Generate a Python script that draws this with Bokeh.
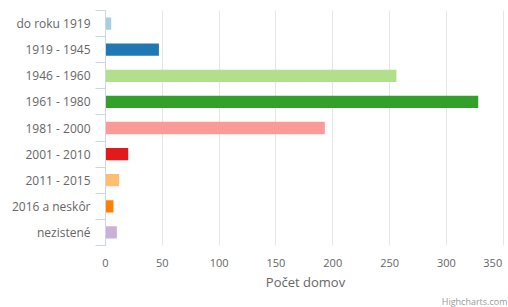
from bokeh.plotting import figure
from bokeh.models import Range1d, FixedTicker, LinearAxis, Grid, Title
from bokeh.embed import file_html
from bokeh.resources import INLINE

categories = ["do roku 1919", "1919 - 1945", "1946 - 1960", "1961 - 1980", "1981 - 2000",
              "2001 - 2010", "2011 - 2015", "2016 a neskôr", "nezistené"]
values = [5, 47, 256, 328, 193, 20, 12, 7, 10]
colors = ["#a6cee3", "#1f78b4", "#b2df8a", "#33a02c", "#fb9a99",
          "#e31a1c", "#fdbf6f", "#ff7f00", "#cab2d6"]
x_ticks = [0, 50, 100, 150, 200, 250, 300, 350]
x_title = "Počet domov"
credit = "Highcharts.com"

FONT = "Open Sans"
n = len(categories)
centers = [i + 0.5 for i in range(n)]
bounds = [float(i) for i in range(n + 1)]

p = figure(width=508, height=307, output_backend="svg", toolbar_location=None,
           x_range=Range1d(0, 352), y_range=Range1d(n, 0),
           x_axis_location=None, y_axis_location=None,
           min_border_left=105, min_border_right=3, min_border_top=10, min_border_bottom=59)
p.outline_line_color = None
p.background_fill_color = "white"
p.border_fill_color = "white"

p.hbar(y=centers, left=0, right=values, height=0.47, color=colors, line_color=None)

# value axis (bottom)
xa = LinearAxis(ticker=FixedTicker(ticks=x_ticks))
xa.axis_line_color = None
xa.major_tick_line_color = None
xa.major_tick_out = 0
xa.major_tick_in = 0
xa.minor_tick_line_color = None
xa.minor_tick_out = 0
xa.minor_tick_in = 0
xa.major_label_text_font = FONT
xa.major_label_text_font_size = "11px"
xa.major_label_text_color = "#666666"
xa.major_label_standoff = 9
xa.major_label_overrides = {x_ticks[-1]: str(x_ticks[-1]) + "\u2007"}
xa.axis_label = x_title
xa.axis_label_text_font = FONT
xa.axis_label_text_font_size = "13px"
xa.axis_label_text_font_style = "normal"
xa.axis_label_text_color = "#666666"
xa.axis_label_standoff = 0
p.add_layout(xa, "below")

# category axis (left)
ya = LinearAxis(ticker=FixedTicker(ticks=centers, minor_ticks=bounds))
ya.axis_line_color = "#ccd6eb"
ya.major_tick_line_color = None
ya.major_tick_out = 0
ya.major_tick_in = 0
ya.minor_tick_line_color = "#ccd6eb"
ya.minor_tick_out = 10
ya.minor_tick_in = 0
ya.major_label_text_font = FONT
ya.major_label_text_font_size = "12px"
ya.major_label_text_color = "#666666"
ya.major_label_standoff = 5
ya.major_label_overrides = {c: name for c, name in zip(centers, categories)}
p.add_layout(ya, "left")

p.xgrid.visible = False
p.ygrid.visible = False
p.add_layout(Grid(dimension=0, ticker=FixedTicker(ticks=x_ticks[1:]), grid_line_color="#e6e6e6"))

p.add_layout(Title(text=credit, align="right", offset=-2, standoff=-1,
                   text_font=FONT, text_font_size="9px", text_font_style="normal",
                   text_color="#999999"), "below")

open("out.html", "w").write(file_html(p, INLINE))
